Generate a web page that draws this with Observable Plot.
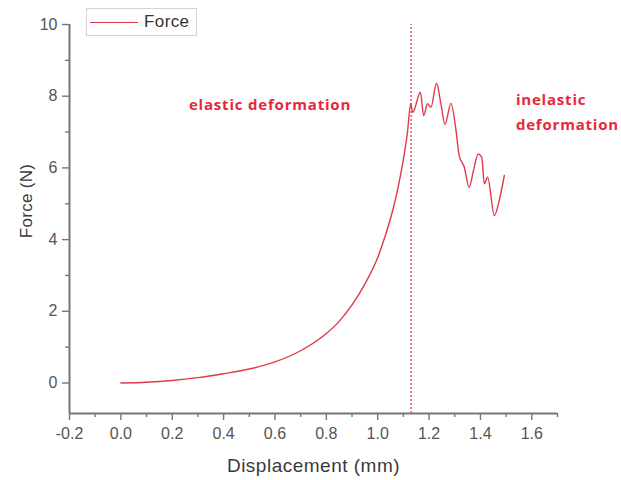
<!DOCTYPE html>
<html><head><meta charset="utf-8">
<script src="https://cdn.jsdelivr.net/npm/d3@7"></script>
<script src="https://cdn.jsdelivr.net/npm/@observablehq/plot@0.6"></script>
<style>
body{margin:0;background:#fff;font-family:"Liberation Sans",Arial,sans-serif;}
#wrap{position:relative;width:621px;height:480px;overflow:hidden;}
#legend{position:absolute;left:86px;top:8px;width:111px;height:28px;border:1px solid #d4d4d4;box-sizing:border-box;background:#fff;display:flex;align-items:center;}
#legend .sw{width:48px;height:0;border-top:1.5px solid #e03a48;margin-left:3px;margin-right:6px;}
#legend span{font-size:17px;color:#333;letter-spacing:0.4px;}
</style></head><body>
<div id="wrap"><div id="chart"></div>
<div id="legend"><div class="sw"></div><span>Force</span></div>
</div>
<script>
// Displacement (mm) and force (N)
const displacement = [0, 0.1, 0.2, 0.3, 0.4, 0.5, 0.6, 0.7, 0.8, 0.85, 0.9, 0.95, 1.0, 1.03, 1.06, 1.08, 1.10, 1.115, 1.129,
  1.135, 1.141, 1.166, 1.179, 1.194, 1.207, 1.229, 1.246, 1.262, 1.285, 1.305, 1.317, 1.337, 1.356, 1.373, 1.391, 1.405, 1.415, 1.428, 1.454, 1.473, 1.493];
const force = [0, 0.02, 0.07, 0.15, 0.26, 0.39, 0.59, 0.90, 1.38, 1.72, 2.18, 2.76, 3.50, 4.12, 4.86, 5.48, 6.24, 6.94, 7.80,
  7.55, 7.60, 8.11, 7.46, 7.79, 7.69, 8.36, 7.79, 7.21, 7.80, 7.04, 6.35, 6.02, 5.46, 5.93, 6.39, 6.30, 5.56, 5.74, 4.67, 5.09, 5.79];
const dividerX = [1.13];
const xTicks = [-0.2, 0.0, 0.2, 0.4, 0.6, 0.8, 1.0, 1.2, 1.4, 1.6];
const xMinor = [-0.1, 0.1, 0.3, 0.5, 0.7, 0.9, 1.1, 1.3, 1.5, 1.7];
const yTicks = [0, 2, 4, 6, 8, 10];
const yMinor = [1, 3, 5, 7, 9];
const xDomain = [-0.2, 1.7];
const yDomain = [-0.85, 10];
const annoText = ["elastic deformation", "inelastic", "deformation"];
const annoX = [0.265, 1.538, 1.538];
const annoY = [7.74, 7.88, 7.18];

const data = displacement.map((d, i) => ({x: d, y: force[i]}));
const annos = annoText.map((t, i) => ({t, x: annoX[i], y: annoY[i]}));
const axisColor = "#777";

const chart = Plot.plot({
  width: 621, height: 480,
  marginLeft: 69, marginRight: 64, marginTop: 24, marginBottom: 67,
  style: {fontFamily: "Liberation Sans, Arial, sans-serif", fontSize: "16px", color: "#555", background: "#fff"},
  x: {domain: xDomain},
  y: {domain: yDomain},
  marks: [
    Plot.axisX(xTicks, {tickSize: 7, tickPadding: 7, stroke: axisColor, strokeWidth: 1.4, tickFormat: d => d.toFixed(1), label: null, fill: "#555"}),
    Plot.axisX(xMinor, {tickSize: 4, text: null, stroke: axisColor, strokeWidth: 1.4, label: null}),
    Plot.axisY(yTicks, {tickSize: 7, tickPadding: 5, stroke: axisColor, strokeWidth: 1.4, tickFormat: d => String(d), label: null, fill: "#555"}),
    Plot.axisY(yMinor, {tickSize: 4, text: null, stroke: axisColor, strokeWidth: 1.4, label: null}),
    Plot.ruleX([xDomain[0]], {y1: yDomain[0], y2: yDomain[1], stroke: axisColor, strokeWidth: 2}),
    Plot.ruleY([yDomain[0]], {x1: xDomain[0], x2: xDomain[1], stroke: axisColor, strokeWidth: 2}),
    Plot.ruleX(dividerX, {y1: yDomain[0], y2: yDomain[1], stroke: "#f0607a", strokeWidth: 1.6, strokeDasharray: "2,2"}),
    Plot.line(data, {x: "x", y: "y", stroke: "#e03a48", strokeWidth: 1.4, curve: "monotone-x"}),
    Plot.text(annos, {x: "x", y: "y", text: "t", textAnchor: "start", fill: "#e8263b", fontWeight: "bold", fontSize: 15, fontFamily: "Open Sans"}),
    Plot.text(["Force (N)"], {frameAnchor: "left", textAnchor: "middle", lineAnchor: "middle", rotate: -90, dx: -43, dy: -18, fontSize: 17, fill: "#3a3a3a"}),
    Plot.text(["Displacement (mm)"], {frameAnchor: "bottom", textAnchor: "middle", lineAnchor: "middle", dy: 52, fontSize: 19, fill: "#3a3a3a"})
  ]
});
document.getElementById("chart").appendChild(chart);
// small letter-spacing tweaks to match the reference's wide lettering
d3.select(chart).selectAll("text").each(function() {
  const t = this.textContent;
  if (annoText.includes(t)) this.setAttribute("letter-spacing", "0.8");
  else if (t === "Displacement (mm)") this.setAttribute("letter-spacing", "0.5");
  else if (t === "Force (N)") this.setAttribute("letter-spacing", "0.3");
});
</script>
</body></html>
